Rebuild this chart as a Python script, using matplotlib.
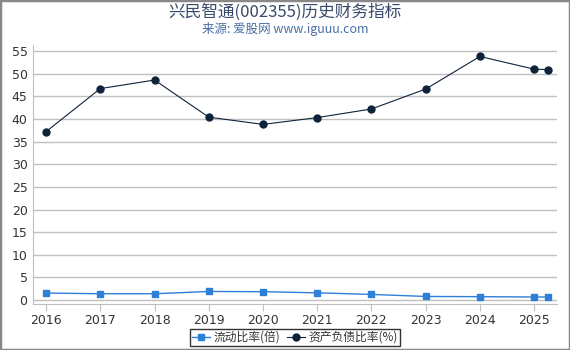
import matplotlib
matplotlib.use("Agg")
from matplotlib import pyplot as plt
from matplotlib.patches import Rectangle

# data
years = [2016, 2017, 2018, 2019, 2020, 2021, 2022, 2023, 2024, 2025, 2025.25]
current_ratio = [1.55, 1.4, 1.4, 1.9, 1.85, 1.6, 1.25, 0.8, 0.75, 0.68, 0.68]
debt_ratio = [37.2, 46.7, 48.6, 40.4, 38.8, 40.3, 42.2, 46.6, 53.8, 51.0, 50.9]
year_ticks = [2016, 2017, 2018, 2019, 2020, 2021, 2022, 2023, 2024, 2025]
y_ticks = list(range(0, 56, 5))

title = "兴民智通(002355)历史财务指标"
subtitle = "来源: 爱股网 www.iguuu.com"
labels = ["流动比率(倍)", "资产负债比率(%)"]

cjk = ["Noto Sans CJK SC", "DejaVu Sans"]

fig = plt.figure(figsize=(5.7, 3.5), dpi=100)
ax = fig.add_axes([0.058, 0.131, 0.919, 0.74])

ax.plot(years, current_ratio, color="#2f7ed8", lw=1, marker="s", ms=5,
        label=labels[0], zorder=3)
ax.plot(years, debt_ratio, color="#0d233a", lw=0.8, marker="o", ms=5,
        label=labels[1], zorder=3)

ax.set_xlim(2015.76, 2025.42)
ax.set_ylim(-0.9, 56.3)
ax.set_xticks(year_ticks)
ax.set_yticks(y_ticks)
ax.grid(axis="y", color="#c0c0c0", lw=1)
ax.set_axisbelow(True)
for s in ["top", "right"]:
    ax.spines[s].set_visible(False)
for s in ["left", "bottom"]:
    ax.spines[s].set_color("#c0c0c0")
ax.tick_params(axis="x", length=5, color="#c0c0c0", labelsize=9,
               labelcolor="#333333", pad=2)
ax.tick_params(axis="y", length=0, labelsize=9, labelcolor="#333333", pad=4)

fig.text(0.5, 0.966, title, ha="center", va="center", fontsize=12,
         color="#3a4a6b", family=cjk)
fig.text(0.5, 0.916, subtitle, ha="center", va="center", fontsize=9,
         color="#4a6fa5", family=cjk)

leg = ax.legend(loc="center", bbox_to_anchor=(0.5, -0.128), ncol=2,
                prop={"family": cjk, "size": 8.5}, frameon=True, fancybox=False,
                handlelength=1.5, handletextpad=0.3, columnspacing=0.6,
                borderpad=0.15, borderaxespad=0)
leg.get_frame().set_edgecolor("black")
leg.get_frame().set_linewidth(1)
for t in leg.get_texts():
    t.set_color("#333333")

fig.patches.append(Rectangle((0, 0), 1, 1, transform=fig.transFigure,
                             fill=False, edgecolor="#888888", lw=2.5))

fig.savefig("out.png", dpi=100)
